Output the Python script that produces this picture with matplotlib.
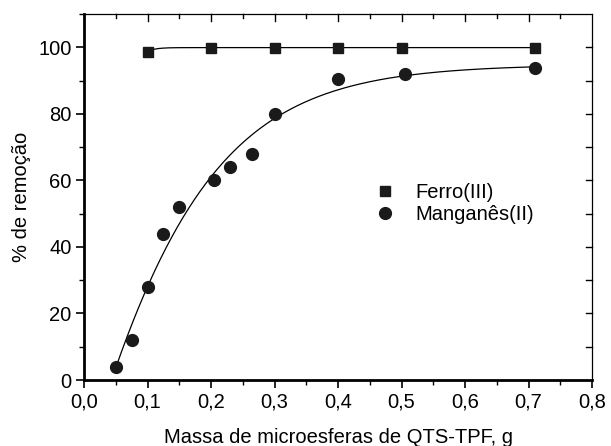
import numpy as np
import matplotlib.pyplot as plt
from matplotlib.ticker import MultipleLocator, FuncFormatter

plt.rcParams['font.family'] = ['Liberation Sans', 'DejaVu Sans']
plt.rcParams['font.size'] = 14.5

# Fe(III) removal
fe_mass = [0.10, 0.20, 0.30, 0.40, 0.50, 0.71]
fe_rem = [98.7, 99.9, 99.9, 99.9, 99.9, 99.9]

# Mn(II) removal
mn_mass = [0.05, 0.075, 0.10, 0.125, 0.15, 0.205, 0.23, 0.265, 0.30, 0.40, 0.505, 0.71]
mn_rem = [4.0, 12.0, 28.0, 44.0, 52.0, 60.0, 64.0, 68.0, 80.0, 90.6, 92.0, 93.8]


def fit_exp(x, y, tau):
    # y = A - B*exp(-x/tau), least squares for A, B
    x = np.asarray(x); y = np.asarray(y)
    M = np.column_stack([np.ones_like(x), -np.exp(-x / tau)])
    (A, B), *_ = np.linalg.lstsq(M, y, rcond=None)
    return lambda xx: A - B * np.exp(-xx / tau)


def fit_boltzmann(x, y):
    # y = A2 + (A1 - A2) / (1 + exp((x - x0)/dx)), grid over x0, dx
    x = np.asarray(x); y = np.asarray(y)
    best = None
    for x0 in np.linspace(-0.1, 0.3, 201):
        for dx in np.linspace(0.02, 0.2, 91):
            s = 1 / (1 + np.exp((x - x0) / dx))
            M = np.column_stack([s, 1 - s])
            coef, *_ = np.linalg.lstsq(M, y, rcond=None)
            sse = np.sum((M @ coef - y) ** 2)
            if best is None or sse < best[0]:
                best = (sse, coef, x0, dx)
    _, (A1, A2), x0, dx = best
    return lambda xx: A2 + (A1 - A2) / (1 + np.exp((xx - x0) / dx))


fe_fit = fit_exp(fe_mass, fe_rem, 0.012)
mn_fit = fit_boltzmann(mn_mass, mn_rem)

fig = plt.figure(figsize=(6.11, 4.46), dpi=100)
ax = fig.add_axes([84 / 611, 1 - 380 / 446, 508 / 611, 366 / 446])

xf = np.linspace(fe_mass[0], fe_mass[-1], 300)
ax.plot(xf, fe_fit(xf), color='black', lw=0.9)
xm = np.linspace(mn_mass[0], mn_mass[-1], 300)
ax.plot(xm, mn_fit(xm), color='black', lw=0.9)

ax.plot(fe_mass, fe_rem, 's', color='#1a1a1a', ms=7, label='Ferro(III)')
ax.plot(mn_mass, mn_rem, 'o', color='#1a1a1a', ms=8.5, label='Manganês(II)')

ax.set_xlim(0, 0.8)
ax.set_ylim(0, 110)
ax.xaxis.set_major_locator(MultipleLocator(0.1))
ax.xaxis.set_minor_locator(MultipleLocator(0.05))
ax.yaxis.set_major_locator(MultipleLocator(20))
ax.yaxis.set_minor_locator(MultipleLocator(10))
ax.xaxis.set_major_formatter(FuncFormatter(lambda v, p: f'{v:.1f}'.replace('.', ',')))

ax.tick_params(which='both', direction='out', top=False, right=False, labelsize=14.5)
ax.tick_params(which='major', length=6, width=1.2, pad=3)
ax.tick_params(which='minor', length=3.5, width=1.0)
ax.spines['left'].set_linewidth(2)
ax.spines['bottom'].set_linewidth(2)
ax.spines['top'].set_linewidth(0.9)
ax.spines['right'].set_linewidth(0.9)

# mirrored inward ticks on top and right
for loc in MultipleLocator(0.05).tick_values(0, 0.8):
    if 0 < loc < 0.8:
        major = abs(round(loc * 10) - loc * 10) < 1e-6
        ax.plot([loc, loc], [110, 110 - (2.0 if major else 1.3)], color='black', lw=1, clip_on=False)
for loc in range(10, 110, 10):
    ax.plot([0.8, 0.8 - 0.0095], [loc, loc], color='black', lw=1, clip_on=False)

ax.set_xlabel('Massa de microesferas de QTS-TPF, g', fontsize=14.5, labelpad=12)
ax.set_ylabel('% de remoção', fontsize=14.5, labelpad=5)

ax.legend(loc='center left', bbox_to_anchor=(0.537, 0.482), frameon=False,
          fontsize=14.5, handletextpad=0.5, labelspacing=0.12, borderaxespad=0)

fig.savefig('out.png', dpi=100)
